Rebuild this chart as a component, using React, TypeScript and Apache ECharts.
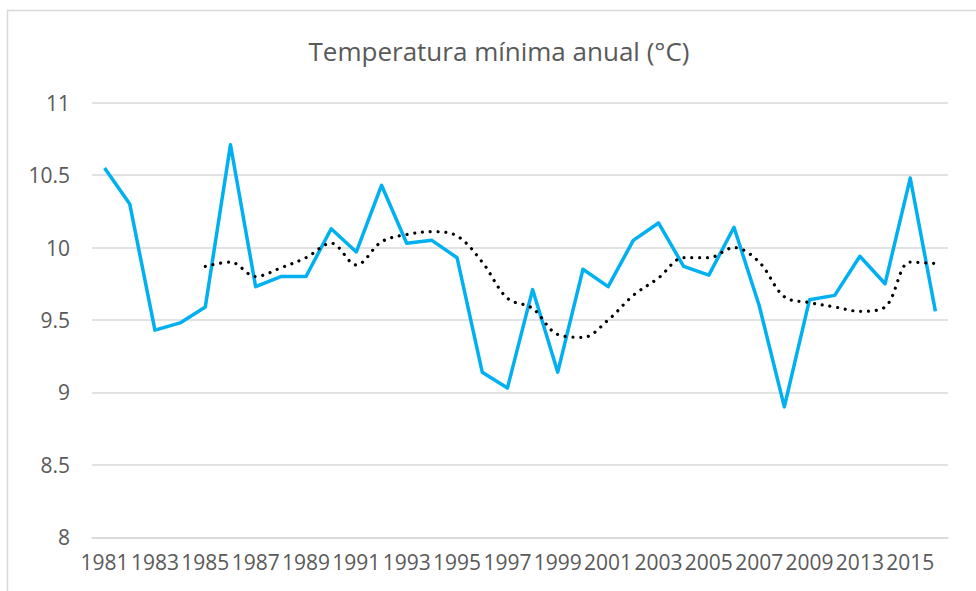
import React, { useEffect, useRef } from "react";
import * as echarts from "echarts";

const years: string[] = [
  "1981", "1982", "1983", "1984", "1985", "1986", "1987", "1988", "1989", "1990",
  "1991", "1992", "1993", "1994", "1995", "1996", "1997", "1998", "1999", "2000",
  "2001", "2002", "2003", "2004", "2005", "2006", "2007", "2008", "2009", "2011",
  "2013", "2014", "2015", "2016",
];

const tempMin: number[] = [
  10.55, 10.3, 9.43, 9.48, 9.59, 10.71, 9.73, 9.8, 9.8, 10.13,
  9.97, 10.43, 10.03, 10.05, 9.93, 9.14, 9.03, 9.71, 9.14, 9.85,
  9.73, 10.05, 10.17, 9.87, 9.81, 10.14, 9.6, 8.9, 9.64, 9.67,
  9.94, 9.75, 10.48, 9.56,
];

const movingAvg: (number | null)[] = [
  null, null, null, null, 9.87, 9.9, 9.8, 9.86, 9.93, 10.03,
  9.88, 10.04, 10.09, 10.11, 10.08, 9.9, 9.65, 9.58, 9.4, 9.38,
  9.5, 9.67, 9.79, 9.93, 9.93, 10.0, 9.9, 9.66, 9.62, 9.59,
  9.56, 9.59, 9.9, 9.89,
];

const titleText = "Temperatura mínima anual (°C)";
const FONT = "'Open Sans', 'Noto Sans', sans-serif";

export default function App() {
  const ref = useRef<HTMLDivElement>(null);

  useEffect(() => {
    if (!ref.current) return;
    const chart = echarts.init(ref.current, undefined, { renderer: "svg" });
    chart.setOption({
      animation: false,
      backgroundColor: "#ffffff",
      graphic: [
        {
          type: "rect",
          silent: true,
          shape: { x: 7.5, y: 10.5, width: 1000, height: 700 },
          style: { fill: "none", stroke: "#D9D9D9", lineWidth: 1.5 },
        },
        {
          type: "text",
          x: 499,
          y: 51,
          style: {
            text: titleText,
            align: "center",
            verticalAlign: "middle",
            fontFamily: FONT,
            fontSize: 26,
            fill: "#595959",
          },
        },
      ],
      grid: { left: 92, right: 28, top: 102.7, bottom: 53.7, containLabel: false },
      xAxis: {
        type: "category",
        data: years,
        boundaryGap: true,
        axisLine: { show: true, lineStyle: { color: "#D9D9D9", width: 1.5 } },
        axisTick: { show: false },
        axisLabel: {
          interval: 1,
          color: "#595959",
          fontFamily: FONT,
          fontSize: 21,
          margin: 14,
        },
        splitLine: { show: false },
      },
      yAxis: {
        type: "value",
        min: 8,
        max: 11,
        interval: 0.5,
        axisLine: { show: false },
        axisTick: { show: false },
        axisLabel: {
          color: "#595959",
          fontFamily: FONT,
          fontSize: 21,
          margin: 22,
        },
        splitLine: { show: true, lineStyle: { color: "#D9D9D9", width: 1.5 } },
      },
      series: [
        {
          type: "line",
          data: tempMin,
          symbol: "none",
          lineStyle: { color: "#00B0F0", width: 3.5, join: "round" },
          z: 3,
        },
        {
          type: "line",
          data: movingAvg,
          symbol: "none",
          smooth: 0.35,
          connectNulls: false,
          lineStyle: {
            color: "#000000",
            width: 3.2,
            type: [0.01, 7.8],
            cap: "round",
          },
          z: 4,
        },
      ],
    });
    return () => chart.dispose();
  }, []);

  return (
    <div
      ref={ref}
      style={{ position: "fixed", left: 0, top: 0, width: 976, height: 591 }}
    />
  );
}
